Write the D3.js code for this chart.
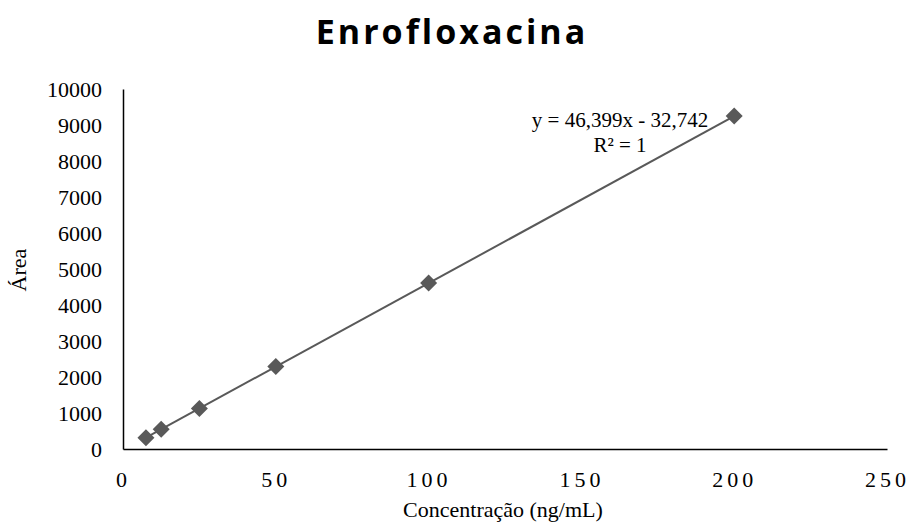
<!DOCTYPE html>
<html><head><meta charset="utf-8">
<script src="https://cdn.jsdelivr.net/npm/d3@7"></script>
<style>body{margin:0;background:#fff}</style>
</head><body>
<svg id="chart" width="911" height="526"></svg>
<script>
const concentrations = [7.5, 12.5, 25, 50, 100, 200];
const areas = [315, 550, 1125, 2290, 4610, 9250];
const xTicks = [0, 50, 100, 150, 200, 250];
const yTicks = [0, 1000, 2000, 3000, 4000, 5000, 6000, 7000, 8000, 9000, 10000];
const slope = 46.399, intercept = -32.742;
const title = "Enrofloxacina";
const xTitle = "Concentração (ng/mL)";
const yTitle = "Área";
const eqLines = ["y = 46,399x - 32,742", "R² = 1"];

const svg = d3.select("#chart");
const x = d3.scaleLinear().domain([0, 250]).range([123, 887]);
const y = d3.scaleLinear().domain([0, 10000]).range([449, 89]);
const serif = "'Liberation Serif', 'Times New Roman', serif";

svg.append("text").attr("x", 452).attr("y", 44).attr("text-anchor", "middle")
  .style("font-family", "'Open Sans', sans-serif").style("font-weight", "bold")
  .style("font-size", "34px").style("letter-spacing", "3px").attr("fill", "#000").text(title);

const xAxis = svg.append("g").attr("transform", `translate(0,${y(0)})`)
  .call(d3.axisBottom(x).tickValues(xTicks).tickSize(0).tickPadding(0).tickFormat(d3.format("d")));
xAxis.attr("font-family", null).attr("font-size", null);
xAxis.select(".domain").attr("stroke", "#000").attr("stroke-width", 1.5);
xAxis.selectAll("text").style("font-family", serif).style("font-size", "22px")
  .style("letter-spacing", "4px").attr("fill", "#000").attr("dy", null).attr("y", 38);

const yAxis = svg.append("g").attr("transform", `translate(${x(0)},0)`)
  .call(d3.axisLeft(y).tickValues(yTicks).tickSize(0).tickPadding(21).tickFormat(d3.format("d")));
yAxis.attr("font-family", null).attr("font-size", null);
yAxis.select(".domain").attr("stroke", "#000").attr("stroke-width", 1.5);
yAxis.selectAll("text").style("font-family", serif).style("font-size", "22px").attr("fill", "#000");

svg.append("text").attr("x", 503).attr("y", 517).attr("text-anchor", "middle")
  .style("font-family", serif).style("font-size", "22px").attr("fill", "#000").text(xTitle);
svg.append("text").attr("transform", "translate(26,270) rotate(-90)").attr("text-anchor", "middle")
  .style("font-family", serif).style("font-size", "22px").attr("fill", "#000").text(yTitle);

const x0 = d3.min(concentrations), x1 = d3.max(concentrations);
svg.append("line").attr("x1", x(x0)).attr("y1", y(slope * x0 + intercept))
  .attr("x2", x(x1)).attr("y2", y(slope * x1 + intercept))
  .attr("stroke", "#595959").attr("stroke-width", 2);

const r = 8.5;
svg.append("g").selectAll("path").data(concentrations).join("path")
  .attr("d", (d, i) => {
    const cx = x(d), cy = y(areas[i]);
    return `M${cx},${cy - r}L${cx + r},${cy}L${cx},${cy + r}L${cx - r},${cy}Z`;
  })
  .attr("fill", "#595959");

const eq = svg.append("text").style("font-family", serif).style("font-size", "21px")
  .attr("fill", "#000").attr("text-anchor", "middle");
eqLines.forEach((t, i) => eq.append("tspan").attr("x", 620).attr("y", 127 + i * 25).text(t));
</script>
</body></html>
